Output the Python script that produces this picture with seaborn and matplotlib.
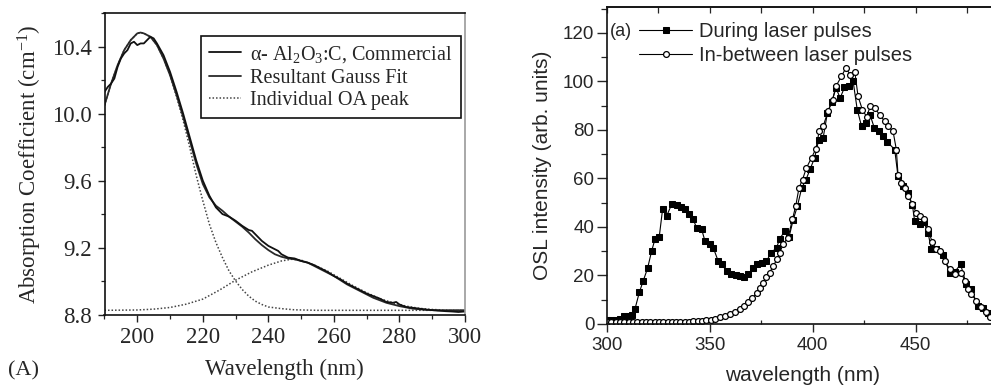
import numpy as np
import pandas as pd
import matplotlib
matplotlib.use("Agg")
import matplotlib.pyplot as plt
from matplotlib.ticker import MultipleLocator
import seaborn as sns

# ---------------- Panel (A): optical absorption of Al2O3:C ----------------
abs_wl = [190, 191, 192, 193, 194, 195, 196, 197, 198, 199, 200, 201, 202, 203,
          204, 205, 206, 208, 210, 212, 214, 216, 218, 220, 222, 224, 226, 228,
          230, 232, 234, 235, 236, 238, 240, 241, 242, 243, 244, 246, 248, 250,
          252, 254, 256, 258, 260, 262, 264, 266, 268, 270, 272, 274, 276, 278,
          279, 280, 282, 284, 286, 288, 290, 292, 294, 296, 298, 300]
abs_coef = [10.13, 10.16, 10.18, 10.21, 10.28, 10.33, 10.36, 10.38, 10.42, 10.43,
            10.41, 10.42, 10.42, 10.44, 10.46, 10.45, 10.42, 10.35, 10.25, 10.13,
            10.00, 9.86, 9.72, 9.60, 9.51, 9.44, 9.40, 9.385, 9.36, 9.33, 9.305,
            9.30, 9.28, 9.24, 9.21, 9.20, 9.19, 9.18, 9.16, 9.14, 9.135, 9.12,
            9.11, 9.095, 9.075, 9.055, 9.03, 9.01, 8.985, 8.965, 8.945, 8.925,
            8.91, 8.895, 8.875, 8.87, 8.875, 8.86, 8.845, 8.84, 8.835, 8.83,
            8.826, 8.823, 8.82, 8.818, 8.815, 8.818]

fit_wl = [190, 192, 194, 196, 198, 200, 201, 202, 204, 206, 208, 210, 212, 214,
          216, 218, 220, 222, 224, 226, 228, 230, 232, 234, 236, 238, 240, 242,
          244, 246, 248, 250, 252, 254, 256, 258, 260, 262, 264, 266, 268, 270,
          272, 274, 276, 278, 280, 284, 288, 292, 296, 300]
fit_coef = [10.05, 10.18, 10.29, 10.38, 10.44, 10.48, 10.485, 10.48, 10.46, 10.41,
            10.33, 10.23, 10.11, 9.98, 9.84, 9.70, 9.58, 9.50, 9.45, 9.42, 9.385,
            9.355, 9.325, 9.29, 9.25, 9.215, 9.185, 9.16, 9.145, 9.135, 9.13,
            9.12, 9.11, 9.09, 9.07, 9.05, 9.03, 9.005, 8.98, 8.96, 8.94, 8.92,
            8.90, 8.885, 8.87, 8.86, 8.85, 8.835, 8.828, 8.825, 8.825, 8.825]

peak1_wl = [190, 192, 194, 196, 198, 200, 201, 202, 204, 206, 208, 210, 212, 214,
            216, 218, 220, 222, 224, 226, 228, 230, 232, 234, 236, 238, 240, 244,
            248, 255, 270, 300]
peak1_coef = [10.05, 10.18, 10.29, 10.38, 10.44, 10.48, 10.485, 10.48, 10.46,
              10.41, 10.33, 10.23, 10.10, 9.96, 9.80, 9.63, 9.48, 9.34, 9.23, 9.14,
              9.06, 9.00, 8.95, 8.91, 8.88, 8.86, 8.845, 8.835, 8.828, 8.825,
              8.825, 8.825]

peak2_wl = [190, 200, 205, 210, 215, 220, 225, 230, 235, 240, 244, 247, 250, 254,
            258, 262, 266, 270, 274, 278, 282, 286, 290, 295, 300]
peak2_coef = [8.825, 8.827, 8.832, 8.842, 8.862, 8.892, 8.945, 9.005, 9.055,
              9.095, 9.12, 9.13, 9.125, 9.095, 9.06, 9.015, 8.97, 8.93, 8.895,
              8.87, 8.85, 8.837, 8.83, 8.826, 8.825]

# ---------------- Panel (a): OSL emission spectra ----------------
during_wl = [300.0, 302.1, 304.2, 306.3, 308.4, 310.5, 312.0, 313.6, 315.7, 317.6,
             319.7, 321.7, 323.3, 325.4, 327.0, 329.0, 331.4, 333.8, 335.9, 337.9,
             339.8, 341.9, 343.5, 346.0, 347.6, 350.0, 351.6, 354.0, 355.7, 358.1,
             360.2, 362.6, 364.6, 366.7, 368.6, 371.0, 373.0, 375.1, 377.5, 379.9,
             382.4, 384.0, 386.4, 388.5, 390.5, 392.5, 394.6, 396.7, 398.8, 400.9,
             402.9, 405.0, 407.1, 409.2, 411.3, 413.3, 415.4, 417.5, 419.6, 421.6,
             423.7, 425.8, 427.9, 429.9, 432.0, 434.1, 436.2, 439.8, 441.4, 443.8,
             446.3, 448.4, 449.5, 451.9, 454.0, 456.0, 457.6, 460.0, 463.3, 466.5,
             469.0, 471.8, 474.6, 477.0, 480.2, 482.5, 485.0, 487.5]
during_int = [1.5, 1.5, 1.6, 2.0, 3.4, 3.5, 3.6, 6.2, 13.0, 17.8,
              22.9, 30.1, 34.9, 36.0, 47.2, 44.5, 49.3, 48.9, 48.3, 47.2,
              45.2, 43.1, 39.7, 39.0, 34.2, 32.9, 31.5, 26.0, 24.6, 21.9,
              20.5, 20.1, 19.8, 19.4, 20.5, 22.9, 24.6, 25.3, 26.0, 29.4,
              31.5, 35.2, 38.3, 36.0, 43.0, 48.5, 56.0, 59.5, 64.0, 68.5,
              76.0, 76.5, 87.0, 91.5, 97.2, 93.1, 97.5, 97.9, 100.0, 88.3,
              81.5, 83.0, 86.0, 80.8, 79.4, 77.3, 75.0, 71.9, 60.9, 56.8,
              54.1, 49.0, 42.4, 41.1, 42.0, 37.6, 30.8, 30.8, 28.4, 21.2,
              21.5, 24.6, 16.4, 14.4, 7.5, 6.5, 4.5, 3.0]

between_wl = [300.0, 302.1, 304.2, 306.3, 308.4, 310.5, 312.6, 314.7, 316.8, 318.9,
              321.0, 323.1, 325.2, 327.3, 329.4, 331.5, 333.6, 335.7, 337.8, 339.9,
              342.0, 344.1, 346.2, 348.3, 350.4, 352.4, 354.9, 357.3, 359.7, 362.1,
              364.6, 366.5, 368.6, 370.7, 372.7, 374.3, 375.9, 377.5, 379.1, 380.7,
              382.7, 384.0, 385.6, 388.0, 390.1, 391.7, 393.3, 395.0, 396.9, 399.4,
              401.5, 403.1, 405.0, 407.4, 409.6, 411.2, 413.9, 416.0, 418.3, 420.4,
              422.0, 424.1, 426.1, 428.0, 430.1, 432.5, 435.0, 436.6, 439.0, 440.6,
              441.4, 443.1, 444.7, 446.3, 448.4, 450.3, 451.9, 454.0, 456.0, 458.1,
              460.0, 461.7, 464.1, 466.5, 469.0, 472.2, 473.8, 475.4, 477.0, 479.5,
              481.9, 484.4, 486.0, 488.0]
between_int = [0.8, 0.8, 0.8, 0.8, 0.8, 0.8, 0.8, 0.8, 0.8, 0.8,
               0.8, 0.8, 0.9, 0.9, 1.0, 1.0, 1.0, 1.0, 1.0, 1.0,
               1.1, 1.2, 1.4, 1.6, 1.8, 2.1, 2.7, 3.4, 4.1, 5.1,
               6.2, 7.5, 8.9, 10.7, 12.7, 14.7, 17.1, 19.2, 21.2, 23.9,
               26.7, 29.4, 33.0, 35.6, 43.1, 48.6, 56.1, 59.5, 64.3, 68.5,
               72.2, 79.4, 81.4, 87.6, 92.4, 97.9, 102.0, 105.4, 102.7, 104.0,
               93.8, 88.3, 85.5, 89.7, 89.0, 86.2, 83.5, 81.4, 79.4, 71.9,
               61.6, 58.2, 56.1, 52.7, 49.3, 45.9, 44.5, 43.1, 39.0, 33.6,
               30.8, 30.1, 26.0, 22.6, 20.5, 21.2, 17.8, 14.4, 12.3, 9.6,
               6.9, 4.8, 2.8, 1.5]

sns.set_theme(style="ticks")
plt.rcParams["font.family"] = ["Liberation Serif", "DejaVu Serif"]
plt.rcParams["mathtext.fontset"] = "custom"
plt.rcParams["mathtext.rm"] = "Liberation Serif"
plt.rcParams["mathtext.it"] = "Liberation Serif:italic"

W, H = 991, 387
fig = plt.figure(figsize=(W / 100, H / 100), dpi=100)
fig.patch.set_facecolor("white")


def box(l, t, r, b):
    return [l / W, 1 - b / H, (r - l) / W, (b - t) / H]


# ---------- left panel ----------
serif = "Liberation Serif"
axA = fig.add_axes(box(104.5, 13.3, 465, 314.5))

sns.lineplot(x=peak1_wl, y=peak1_coef, ax=axA, color="#444444", lw=1.1,
             linestyle=(0, (1, 1.3)), sort=False, label="Individual OA peak")
sns.lineplot(x=peak2_wl, y=peak2_coef, ax=axA, color="#444444", lw=1.1,
             linestyle=(0, (1, 1.3)), sort=False)
sns.lineplot(x=fit_wl, y=fit_coef, ax=axA, color="#2a2a2a", lw=1.3,
             sort=False, label="Resultant Gauss Fit")
sns.lineplot(x=abs_wl, y=abs_coef, ax=axA, color="#111111", lw=1.3,
             sort=False, label=r"α- Al$_2$O$_3$:C, Commercial")

axA.set_xlim(190, 300)
axA.set_ylim(8.8, 10.6)
axA.xaxis.set_major_locator(MultipleLocator(20))
axA.xaxis.set_minor_locator(MultipleLocator(10))
axA.yaxis.set_major_locator(MultipleLocator(0.4))
axA.yaxis.set_minor_locator(MultipleLocator(0.2))
axA.yaxis.set_major_formatter(matplotlib.ticker.FormatStrFormatter("%.1f"))
axA.tick_params(which="major", direction="out", length=5, width=1.0,
                labelsize=16.5, color="#222222", pad=4)
axA.tick_params(which="minor", direction="out", length=3, width=0.9,
                color="#222222")
axA.tick_params(top=False, right=False, which="both")
for lab in axA.get_xticklabels() + axA.get_yticklabels():
    lab.set_family(serif)
for s in ["left", "bottom", "top"]:
    axA.spines[s].set_color("#111111")
    axA.spines[s].set_linewidth(1.2)
axA.spines["right"].set_color("#9a9a9a")
axA.spines["right"].set_linewidth(1.2)
axA.set_xlabel("Wavelength (nm)", fontsize=16.5, family=serif, labelpad=8)
axA.set_ylabel(r"Absorption Coefficient (cm$^{-1}$)", fontsize=16.5,
               family=serif, labelpad=6)

hA, lA = axA.get_legend_handles_labels()
order = [2, 1, 0]
legA = axA.legend([hA[i] for i in order], [lA[i] for i in order],
                  loc="upper right", bbox_to_anchor=(0.989, 0.925),
                  prop={"family": serif, "size": 14.5}, frameon=True,
                  fancybox=False, edgecolor="#111111", framealpha=1,
                  handlelength=1.6, handletextpad=0.45, labelspacing=0.18,
                  borderpad=0.4, borderaxespad=0)
legA.get_frame().set_linewidth(1.2)

fig.text(8 / W, 1 - 371 / H, "(A)", fontsize=16, family=serif,
         va="center", ha="left")

# ---------- right panel ----------
sans = "Liberation Sans"
axB = fig.add_axes(box(607, 7.3, 998, 324))

sns.lineplot(x=during_wl, y=during_int, ax=axB, color="black", lw=0.8,
             marker="s", markersize=5.0, markerfacecolor="black",
             markeredgecolor="black", sort=False, label="During laser pulses")
sns.lineplot(x=between_wl, y=between_int, ax=axB, color="black", lw=0.8,
             marker="o", markersize=4.2, markerfacecolor="white",
             markeredgecolor="black", markeredgewidth=0.9, sort=False,
             label="In-between laser pulses")

axB.set_xlim(300, 490)
axB.set_ylim(0, 130.5)
axB.xaxis.set_major_locator(MultipleLocator(50))
axB.xaxis.set_minor_locator(MultipleLocator(25))
axB.yaxis.set_major_locator(MultipleLocator(20))
axB.yaxis.set_minor_locator(MultipleLocator(10))
axB.tick_params(axis="x", which="major", direction="out", length=6, width=1.0,
                labelsize=13.5, pad=3)
axB.tick_params(axis="x", which="minor", direction="in", length=3, width=0.9)
axB.tick_params(axis="y", which="major", direction="out", length=7, width=1.0,
                labelsize=13.5, pad=2)
axB.tick_params(axis="y", which="minor", direction="out", length=4, width=0.9)
for lab in axB.get_xticklabels() + axB.get_yticklabels():
    lab.set_family(sans)
for s in ["left", "bottom", "top", "right"]:
    axB.spines[s].set_color("#111111")
    axB.spines[s].set_linewidth(1.2)

top = axB.secondary_xaxis("top")
top.xaxis.set_major_locator(MultipleLocator(25))
top.tick_params(direction="in", length=4, width=0.9, labeltop=False)
top.spines["top"].set_linewidth(1.2)

axB.set_xlabel("wavelength (nm)", fontsize=15, family=sans, labelpad=9)
axB.set_ylabel("OSL intensity (arb. units)", fontsize=15, family=sans,
               labelpad=8)

legB = axB.legend(loc="upper left", bbox_to_anchor=(0.083, 0.955),
                  prop={"family": sans, "size": 14.5}, frameon=False,
                  handlelength=2.6, handletextpad=0.35, labelspacing=0.25,
                  borderaxespad=0, borderpad=0)
axB.text(0.008, 0.925, "(a)", transform=axB.transAxes, fontsize=13,
         family=sans, va="center", ha="left")

fig.savefig("out.png", dpi=100, facecolor="white")
